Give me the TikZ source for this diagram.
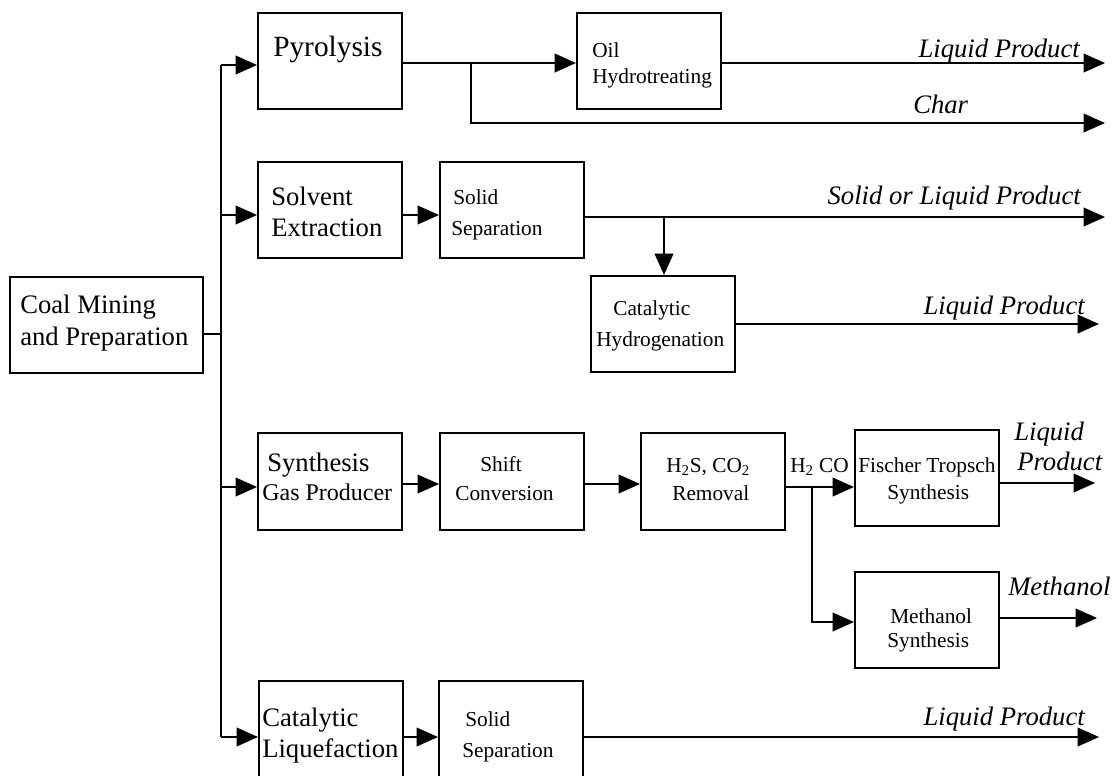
\documentclass[tikz,border=0pt]{standalone}
\usepackage{fontspec}
\setmainfont{Liberation Serif}
\usetikzlibrary{arrows.meta}
\begin{document}
\begin{tikzpicture}[x=0.75pt,y=-0.75pt,
  box/.style={draw, line width=1.5pt, minimum width=108pt, minimum height=72pt, inner sep=0pt},
  conn/.style={line width=1.2pt},
  arr/.style={conn, -{Triangle[length=16pt,width=14pt]}},
  big/.style={font=\fontsize{20}{24}\selectfont, inner sep=0pt, anchor=base west},
  mid/.style={font=\fontsize{18}{22}\selectfont, inner sep=0pt, anchor=base west},
  small/.style={font=\fontsize{16}{19}\selectfont, inner sep=0pt, anchor=base west},
  lab/.style={font=\fontsize{20}{24}\selectfont\itshape, inner sep=0pt},
]
\useasboundingbox (0,0) rectangle (1120,775);
\clip (0,0) rectangle (1120,775);

% boxes
\node[box, minimum width=144.75pt] (coal) at (106.5,325) {};
\node[box] (pyr) at (330,61) {};
\node[box] (oil) at (649,61) {};
\node[box] (solv) at (330,210) {};
\node[box] (sep1) at (512,210) {};
\node[box] (hydro) at (663,324) {};
\node[box, minimum height=72.75pt] (syn) at (330,481.5) {};
\node[box, minimum height=72.75pt] (shift) at (512,481.5) {};
\node[box, minimum height=72.75pt] (rem) at (713,481.5) {};
\node[box] (ft) at (927,478) {};
\node[box] (meth) at (927,620) {};
\node[box] (liq) at (331,729) {};
\node[box] (sep2) at (511,729) {};

% trunk
\coordinate (tTop) at (221,65);
\coordinate (tMid) at (221,334);
\coordinate (tS) at (221,215);
\coordinate (tG) at (221,487);
\coordinate (tBot) at (221,737);
\draw[conn] (tTop) -- (tBot);
\draw[conn] (coal.east |- tMid) -- (tMid);
\draw[arr] (tTop) -- (pyr.west |- tTop);
\draw[arr] (tS) -- (solv.west |- tS);
\draw[arr] (tG) -- (syn.west |- tG);
\draw[arr] (tBot) -- (liq.west |- tBot);

% pyrolysis row
\coordinate (p1) at (471,63);
\coordinate (charEnd) at (1105,123);
\coordinate (liq1End) at (1105,63);
\draw[arr] (pyr.east |- p1) -- (oil.west |- p1);
\draw[arr] (p1) |- (charEnd);
\draw[arr] (oil.east |- liq1End) -- (liq1End);

% solvent row
\draw[arr] (solv.east |- tS) -- (sep1.west |- tS);
\coordinate (s1) at (664,217);
\coordinate (solEnd) at (1105,217);
\draw[arr] (sep1.east |- s1) -- (solEnd);
\draw[arr] (s1) -- (s1 |- hydro.north);
\coordinate (hEnd) at (1099,324);
\draw[arr] (hydro.east |- hEnd) -- (hEnd);

% gas row
\coordinate (g1) at (0,484);
\draw[arr] (syn.east |- g1) -- (shift.west |- g1);
\draw[arr] (shift.east |- g1) -- (rem.west |- g1);
\coordinate (g2) at (812,487);
\draw[arr] (rem.east |- g2) -- (ft.west |- g2);
\coordinate (g3) at (812,622);
\draw[arr] (g2) -- (g3) -- (meth.west |- g3);
\coordinate (ftEnd) at (1095,483);
\draw[arr] (ft.east |- ftEnd) -- (ftEnd);
\coordinate (mEnd) at (1097,618);
\draw[arr] (meth.east |- mEnd) -- (mEnd);

% bottom row
\draw[arr] (liq.east |- tBot) -- (sep2.west |- tBot);
\coordinate (bEnd) at (1099,737);
\draw[arr] (sep2.east |- bEnd) -- (bEnd);

% box texts
\node[big] (tcoal1) at (20,313) {Coal Mining};
\node[big] (tcoal2) at (20,345) {and Preparation};
\node[big, font=\fontsize{22}{26}\selectfont] (tpyr) at (273,56) {Pyrolysis};
\node[small] (toil1) at (592,57) {Oil};
\node[small] (toil2) at (592,83) {Hydrotreating};
\node[big] (tsolv1) at (271,205) {Solvent};
\node[big] (tsolv2) at (271,236) {Extraction};
\node[small] (tsep1a) at (453,204) {Solid};
\node[small] (tsep1b) at (451,235) {Separation};
\node[small] (thy1) at (613,315) {Catalytic};
\node[small] (thy2) at (596,346) {Hydrogenation};
\node[big] (tsyn1) at (267,471) {Synthesis};
\node[mid] (tsyn2) at (262,500) {Gas Producer};
\node[small] (tsh1) at (480,471) {Shift};
\node[small] (tsh2) at (455,500) {Conversion};
\node[small] (trem1) at (666,472) {H\textsubscript{2}S, CO\textsubscript{2}};
\node[small] (trem2) at (672,500) {Removal};
\node[small] (th2co) at (790,472) {H\textsubscript{2} CO};
\node[small] (tft1) at (858,472) {Fischer Tropsch};
\node[small] (tft2) at (887,499) {Synthesis};
\node[small] (tme1) at (890,623) {Methanol};
\node[small] (tme2) at (887,647) {Synthesis};
\node[big] (tliq1) at (262,726) {Catalytic};
\node[big] (tliq2) at (262,757) {Liquefaction};
\node[small] (tsep2a) at (465,726) {Solid};
\node[small] (tsep2b) at (462,757) {Separation};

% product labels
\node[lab, anchor=base east] (lp1) at (1080,57) {Liquid Product};
\node[lab, anchor=base west] (lchar) at (913,113) {Char};
\node[lab, anchor=base east] (lsol) at (1081,204) {Solid or Liquid Product};
\node[lab, anchor=base east] (lp2) at (1085,314) {Liquid Product};
\node[lab, anchor=base west] (lp3a) at (1014,440) {Liquid};
\node[lab, anchor=base west] (lp3b) at (1017,470) {Product};
\node[lab, anchor=base west] (lmeth) at (1008,595) {Methanol};
\node[lab, anchor=base east] (lp4) at (1085,725) {Liquid Product};
\end{tikzpicture}
\end{document}
